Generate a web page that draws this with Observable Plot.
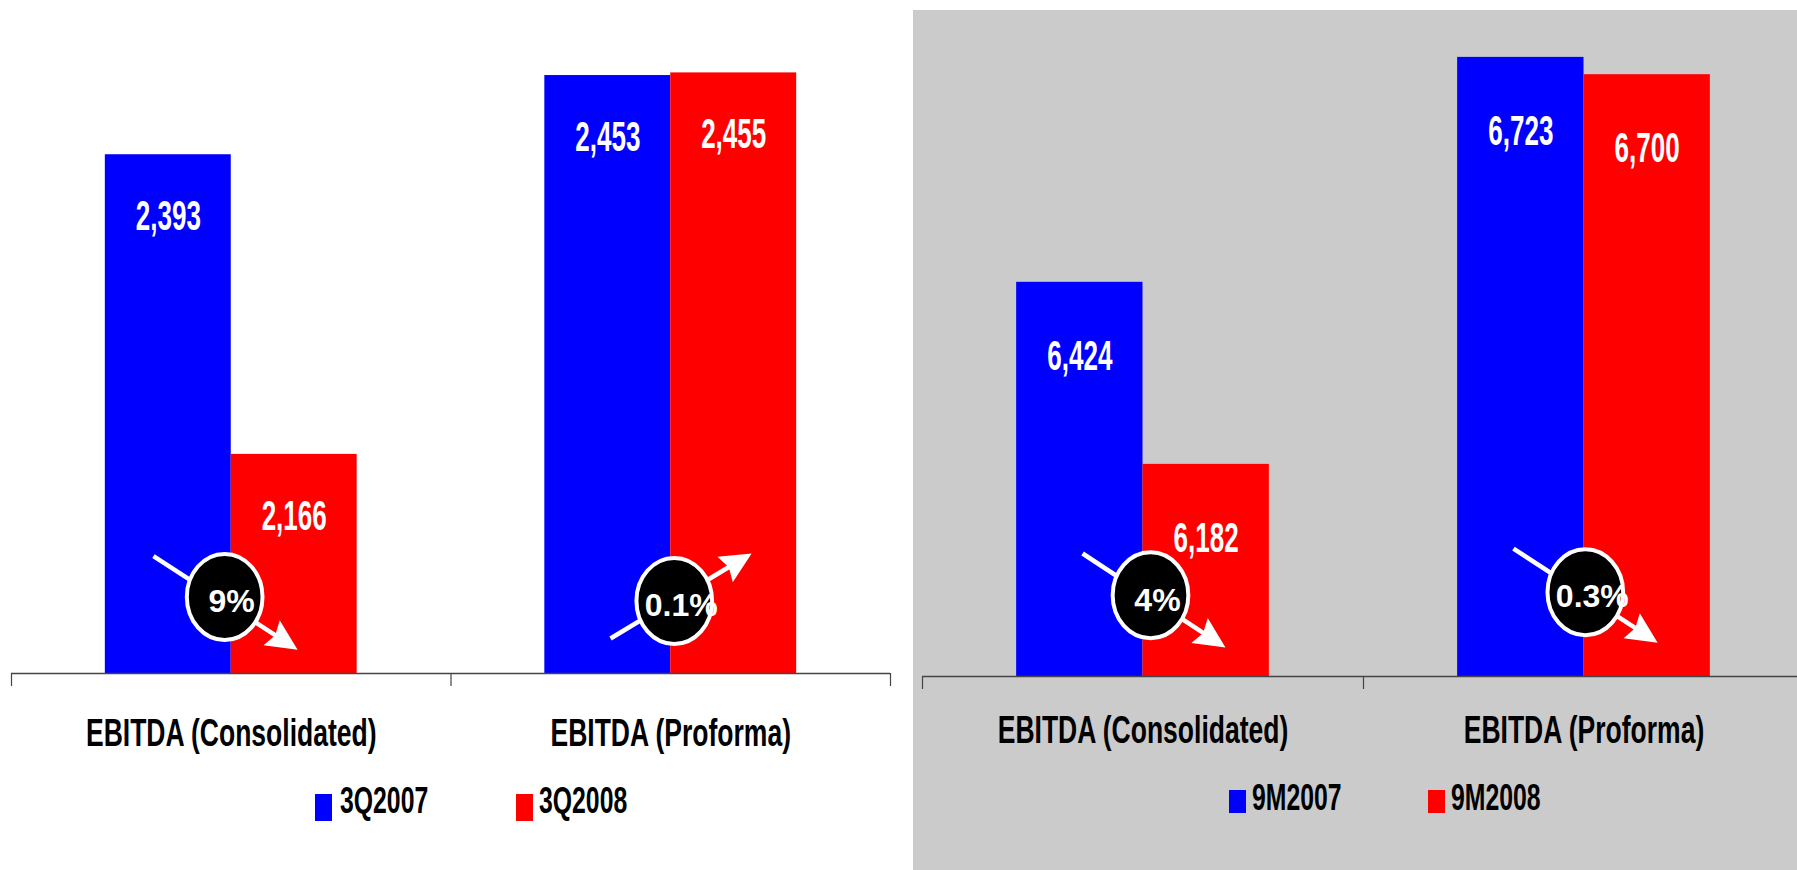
<!DOCTYPE html>
<html><head><meta charset="utf-8">
<script src="https://cdn.jsdelivr.net/npm/d3@7"></script>
<script src="https://cdn.jsdelivr.net/npm/@observablehq/plot@0.6"></script>
<style>
html,body{margin:0;padding:0;background:#fff;width:1797px;height:870px;overflow:hidden;}
body{position:relative;font-family:"Liberation Sans",Arial,sans-serif;}
#left{position:absolute;left:0;top:0;width:912px;height:870px;}
#right{position:absolute;left:913px;top:10px;width:884px;height:860px;background:#cbcbcb;overflow:hidden;}
#left svg,#right svg{max-width:none !important;display:block;}
.sw{position:absolute;}
.lt{position:absolute;font-weight:bold;font-size:37px;line-height:37px;color:#000;white-space:nowrap;transform:scaleX(0.67);transform-origin:0 0;}
</style></head><body>
<div id="left"></div><div id="right"></div>
<script>
// ---- data ----
const categories = ["EBITDA (Consolidated)", "EBITDA (Proforma)"];
const quarterSeries = ["3Q2007", "3Q2008"];
const quarter2007 = [2393, 2453];
const quarter2008 = [2166, 2455];
const nineMonthSeries = ["9M2007", "9M2008"];
const nineMonth2007 = [6424, 6723];
const nineMonth2008 = [6182, 6700];
const quarterChanges = ["9%", "0.1%"];
const nineMonthChanges = ["4%", "0.3%"];
// badge anchors (data units: x = category index space, y = value)
const quarterBadgeX = [0.485, 1.508];
const quarterBadgeY = [2058, 2055];
const quarterArrowFrom = [[0.323, 2089], [1.363, 2026.5]];
const quarterArrowTo = [[0.651, 2018], [1.684, 2091]];
const nineBadgeX = [0.517, 1.503];
const nineBadgeY = [6008, 6012];
const nineArrowFrom = [[0.363, 6063.5], [1.340, 6070]];
const nineArrowTo = [[0.687, 5938.5], [1.667, 5945]];
const seriesColors = ["#0000ff", "#ff0000"];

const font = '"Liberation Sans", Arial, sans-serif';

const ellipseSymbol = {draw(ctx, size) {
  const ry = Math.sqrt(size / Math.PI), rx = ry * 0.88, k = 0.5523;
  ctx.moveTo(rx, 0);
  ctx.bezierCurveTo(rx, ry * k, rx * k, ry, 0, ry);
  ctx.bezierCurveTo(-rx * k, ry, -rx, ry * k, -rx, 0);
  ctx.bezierCurveTo(-rx, -ry * k, -rx * k, -ry, 0, -ry);
  ctx.bezierCurveTo(rx * k, -ry, rx, -ry * k, rx, 0);
  ctx.closePath();
}};
const headSymbol = {draw(ctx, size) {
  const s = Math.sqrt(size / Math.PI);
  ctx.moveTo(0, 0);
  ctx.lineTo(-0.48 * s, s);
  ctx.lineTo(0, 0.86 * s);
  ctx.lineTo(0.48 * s, s);
  ctx.closePath();
}};

function squeeze(svg, fontSize, sx) {
  svg.querySelectorAll(`g[font-size="${fontSize}"] text`).forEach(t => {
    let tr = t.getAttribute("transform");
    if (!tr) {
      const x = +t.getAttribute("x") || 0, y = +t.getAttribute("y") || 0;
      t.removeAttribute("x"); t.removeAttribute("y");
      tr = `translate(${x},${y})`;
    }
    t.setAttribute("transform", tr + ` scale(${sx},1)`);
  });
}

function panel(o) {
  const rows = [];
  categories.forEach((c, i) => {
    rows.push({cat: c, i, s: 0, series: o.series[0], value: o.v1[i]});
    rows.push({cat: c, i, s: 1, series: o.series[1], value: o.v2[i]});
  });
  const W = 0.2865;
  const xs = Plot.scale({x: {domain: [0, 2], range: o.xRange}});
  const ys = Plot.scale({y: {domain: o.yDomain, range: o.yRange}});
  const base = o.yDomain[0];
  const badges = o.changes.map((t, i) => {
    const f = o.from[i], to = o.to[i];
    const px = xs.apply(to[0]) - xs.apply(f[0]);
    const py = ys.apply(to[1]) - ys.apply(f[1]);
    return {
      text: t, x: o.bx[i], y: o.by[i],
      x1: f[0], y1: f[1],
      x2: f[0] + (to[0] - f[0]) * 0.86, y2: f[1] + (to[1] - f[1]) * 0.86,
      tx: to[0], ty: to[1],
      angle: Math.atan2(px, -py) * 180 / Math.PI
    };
  });
  const tickEnd = ys.invert(ys.apply(base) + 13);
  const fmt = d3.format(",");
  const svg = Plot.plot({
    width: o.width, height: o.height,
    marginTop: 0, marginBottom: 0, marginLeft: 0, marginRight: 0,
    x: {domain: [0, 2], range: o.xRange, axis: null},
    y: {domain: o.yDomain, range: o.yRange, axis: null},
    color: {domain: o.series, range: seriesColors},
    style: {background: "transparent", overflow: "visible", maxWidth: "none"},
    marks: [
      Plot.rect(rows, {
        x1: d => d.i + 0.5 - (1 - d.s) * W,
        x2: d => d.i + 0.5 + d.s * W,
        y1: () => base, y2: "value", fill: "series"
      }),
      Plot.ruleY([base], {y: d => d, x1: () => 0, x2: () => 2, stroke: "#444", strokeWidth: 1.6}),
      Plot.ruleX([0, 1, 2], {x: d => d, y1: () => base, y2: () => tickEnd, stroke: "#444", strokeWidth: 1.2}),
      Plot.text(rows, {
        x: d => d.i + 0.5 + (d.s - 0.5) * W, y: "value",
        text: d => fmt(d.value), dy: o.labelDy, lineAnchor: "middle",
        fill: "white", fontSize: 42, fontWeight: "bold", fontFamily: font
      }),
      Plot.text(categories, {
        x: (d, i) => i + 0.5, y: () => base, text: d => d,
        dy: o.catDy, lineAnchor: "middle",
        fill: "black", fontSize: 39, fontWeight: "bold", fontFamily: font
      }),
      Plot.link(badges, {x1: "x1", y1: "y1", x2: "x2", y2: "y2", stroke: "white", strokeWidth: 4.5}),
      Plot.dot(badges, {x: "tx", y: "ty", symbol: headSymbol, r: 31, fill: "white", stroke: "none", rotate: "angle"}),
      Plot.dot(badges, {x: "x", y: "y", symbol: ellipseSymbol, r: 43, fill: "black", stroke: "white", strokeWidth: 4}),
      Plot.text(badges, {
        x: "x", y: "y", text: "text", dx: 7, dy: 5, lineAnchor: "middle",
        fill: "white", fontSize: 32, fontWeight: "bold", fontFamily: font
      })
    ]
  });
  squeeze(svg, 42, 0.62);
  squeeze(svg, 39, 0.68);
  return svg;
}

document.getElementById("left").appendChild(panel({
  series: quarterSeries, v1: quarter2007, v2: quarter2008, changes: quarterChanges,
  bx: quarterBadgeX, by: quarterBadgeY, from: quarterArrowFrom, to: quarterArrowTo,
  yDomain: [2000, 2500], xRange: [11, 890], yRange: [673, 13],
  width: 912, height: 780, labelDy: 62, catDy: 60
}));
document.getElementById("right").appendChild(panel({
  series: nineMonthSeries, v1: nineMonth2007, v2: nineMonth2008, changes: nineMonthChanges,
  bx: nineBadgeX, by: nineBadgeY, from: nineArrowFrom, to: nineArrowTo,
  yDomain: [5900, 6780], xRange: [9, 891], yRange: [666, 4],
  width: 884, height: 780, labelDy: 74, catDy: 54
}));

// ---- legends (HTML) ----
function legend(series, items) {
  series.forEach((s, i) => {
    const it = items[i];
    const sw = document.createElement("div");
    sw.className = "sw";
    Object.assign(sw.style, {left: it.sx + "px", top: it.sy + "px", width: "17px", height: it.sh + "px", background: seriesColors[i]});
    document.body.appendChild(sw);
    const t = document.createElement("div");
    t.className = "lt";
    t.textContent = s;
    Object.assign(t.style, {left: it.tx + "px", top: it.ty + "px"});
    document.body.appendChild(t);
  });
}
legend(quarterSeries, [
  {sx: 315, sy: 794, sh: 27, tx: 340, ty: 782},
  {sx: 516, sy: 794, sh: 27, tx: 539, ty: 782}
]);
legend(nineMonthSeries, [
  {sx: 1229, sy: 790, sh: 23, tx: 1252, ty: 779},
  {sx: 1428, sy: 790, sh: 23, tx: 1451, ty: 779}
]);
</script>
</body></html>
